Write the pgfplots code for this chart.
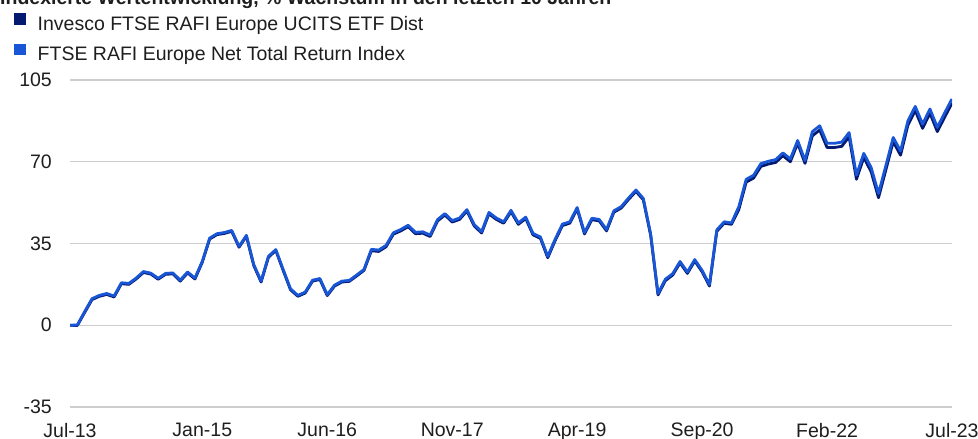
\documentclass[border=0pt]{standalone}
\usepackage{pgfplots}
\usepackage{pgfplotstable}
\pgfplotsset{compat=1.18}
\usepackage{fontspec}
\setmainfont{Liberation Sans}
\definecolor{etf}{RGB}{4,26,112}
\definecolor{idx}{RGB}{24,86,214}
\definecolor{txt}{RGB}{30,30,30}
\definecolor{gridc}{RGB}{205,205,205}

\pgfplotstableread{
i etf idx
0 0 0
1 -0.1 0.1
2 5.5 5.9
3 11.0 11.4
4 12.4 12.8
5 13.2 13.6
6 12.1 12.5
7 17.8 18.2
8 17.5 17.9
9 19.8 20.2
10 22.6 23.0
11 21.9 22.3
12 19.7 20.1
13 21.8 22.2
14 22.0 22.4
15 18.9 19.3
16 22.4 22.8
17 19.8 20.2
18 27.0 27.4
19 36.9 37.3
20 38.8 39.2
21 39.3 39.7
22 40.2 40.6
23 33.4 33.8
24 38.1 38.5
25 25.6 26.0
26 18.5 18.9
27 29.1 29.5
28 32.0 32.4
29 23.5 23.9
30 15.2 15.6
31 12.4 12.8
32 13.8 14.2
33 18.9 19.3
34 19.6 20.0
35 12.7 13.1
36 16.8 17.2
37 18.5 18.9
38 18.8 19.2
39 21.1 21.5
40 23.5 23.9
41 31.9 32.5
42 31.6 32.2
43 33.6 34.2
44 39.0 39.6
45 40.4 41.0
46 42.2 42.8
47 39.2 39.8
48 39.4 40.0
49 38.0 38.6
50 44.6 45.2
51 47.2 47.8
52 44.2 44.8
53 45.3 45.9
54 48.9 49.5
55 42.5 43.1
56 39.5 40.1
57 47.7 48.3
58 45.3 45.9
59 43.7 44.3
60 48.6 49.2
61 43.2 43.8
62 45.7 46.3
63 38.7 39.3
64 37.2 37.8
65 28.9 29.5
66 36.2 36.8
67 42.7 43.3
68 43.7 44.3
69 49.8 50.4
70 39.1 39.7
71 45.2 45.8
72 44.7 45.3
73 40.4 41.0
74 48.4 49.0
75 50.2 50.8
76 53.9 54.5
77 57.3 57.9
78 53.7 54.3
79 38.5 39.1
80 13.0 13.6
81 19.1 19.7
82 21.5 22.1
83 26.7 27.3
84 22.2 22.8
85 27.5 28.1
86 22.9 23.5
87 16.8 17.4
88 40.2 40.8
89 43.7 44.3
90 43.2 43.8
91 49.6 50.8
92 61.3 62.5
93 63.0 64.2
94 68.0 69.2
95 69.0 70.2
96 69.7 70.9
97 72.6 73.8
98 70.0 71.2
99 77.9 79.1
100 69.3 70.5
101 81.1 82.9
102 83.6 85.4
103 76.1 77.9
104 76.1 77.9
105 76.6 78.4
106 80.7 82.5
107 62.5 64.3
108 71.8 73.6
109 65.7 67.5
110 54.6 56.4
111 66.5 68.3
112 78.6 80.4
113 72.8 74.6
114 85.7 87.5
115 91.9 93.7
116 84.3 86.1
117 90.8 92.6
118 82.9 84.7
119 89.1 90.9
120 95.1 96.9
}\data

\begin{document}
\begin{tikzpicture}
\path[use as bounding box] (0bp,0bp) rectangle (978bp,-439bp);
\node[anchor=base west, inner sep=0pt, text=txt, font=\fontsize{19.5bp}{22bp}\selectfont\bfseries] at (0bp,-4bp) {Indexierte Wertentwicklung, \% Wachstum in den letzten 10 Jahren};
\begin{axis}[
  at={(70bp,-407bp)}, anchor=south west,
  width=882bp, height=327bp, scale only axis,
  xmin=0, xmax=120, ymin=-35, ymax=105,
  ytick={-35,0,35,70,105},
  xtick={0,18,35,52,69,86,103,120},
  xticklabels={Jul-13,Jan-15,Jun-16,Nov-17,Apr-19,Sep-20,Feb-22,Jul-23},
  axis line style={draw=none},
  major tick length=0pt,
  ymajorgrids,
  grid style={gridc, line width=1.3bp},
  /pgf/number format/assume math mode=true,
  ticklabel style={font=\fontsize{19.5bp}{22bp}\selectfont, text=txt, inner sep=0pt},
  yticklabel style={anchor=east, xshift=-18bp},
  xticklabel style={anchor=north, yshift=-16bp},
  legend style={at={(axis description cs:-0.0635,1.205)}, anchor=north west, draw=none, fill=none,
    inner sep=0pt, font=\fontsize{19.5bp}{22bp}\selectfont, text=txt,
    nodes={inner sep=0pt, text height=14bp, text depth=4bp},
    row sep=9.5bp,
    /tikz/every odd column/.append style={column sep=12bp}},
  legend cell align=left,
  legend image code/.code={\fill[#1, draw=none] (0bp,0.5bp) rectangle (11.5bp,12bp);},
]
\addplot[etf, line width=2.8bp, line join=round] table[x=i, y=etf] {\data};
\addlegendentry{Invesco FTSE RAFI Europe UCITS ETF Dist}
\addplot[idx, line width=2.8bp, line join=round] table[x=i, y=idx] {\data};
\addlegendentry{FTSE RAFI Europe Net Total Return Index}
\end{axis}
\end{tikzpicture}
\end{document}
